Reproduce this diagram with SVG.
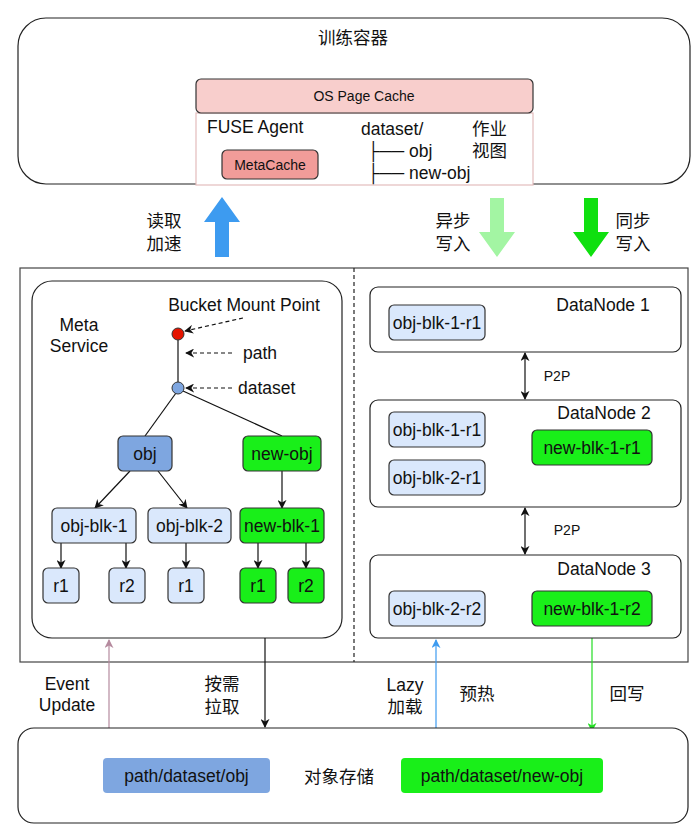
<svg xmlns="http://www.w3.org/2000/svg" width="700" height="836" viewBox="0 0 700 836">
<style>
text{font-family:"Liberation Sans","DejaVu Sans","Noto Sans CJK SC",sans-serif;fill:#111;}
.t16{font-size:17.5px;}
.t13{font-size:14px;}
.c{text-anchor:middle;}
.box{stroke:#333;stroke-width:1.2;}
.lb{fill:#dae8fc;}
.bl{fill:#7ea6e0;}
.gr{fill:#19ef19;}
.ln{stroke:#111;stroke-width:1.2;fill:none;}
.dash{stroke:#111;stroke-width:1.2;fill:none;stroke-dasharray:4 3;}
</style>
<defs>
<marker id="ah" viewBox="0 0 10 10" refX="9" refY="5" markerWidth="9" markerHeight="9" orient="auto-start-reverse" markerUnits="userSpaceOnUse">
<path d="M0,0 L10,5 L0,10 L3,5 z" fill="#111"/>
</marker>
<marker id="ahp" viewBox="0 0 10 10" refX="9" refY="5" markerWidth="9" markerHeight="9" orient="auto" markerUnits="userSpaceOnUse">
<path d="M0,0 L10,5 L0,10 L3,5 z" fill="#b58a9e"/>
</marker>
<marker id="ahb" viewBox="0 0 10 10" refX="9" refY="5" markerWidth="9" markerHeight="9" orient="auto" markerUnits="userSpaceOnUse">
<path d="M0,0 L10,5 L0,10 L3,5 z" fill="#3d9bf0"/>
</marker>
<marker id="ahg" viewBox="0 0 10 10" refX="9" refY="5" markerWidth="9" markerHeight="9" orient="auto" markerUnits="userSpaceOnUse">
<path d="M0,0 L10,5 L0,10 L3,5 z" fill="#22dd22"/>
</marker>
</defs>

<!-- Training container -->
<g id="training-container">
<rect x="18" y="18" width="672" height="166" rx="28" fill="#fff" stroke="#222" stroke-width="1.2"/>
<text class="t16 c" x="353" y="44">训练容器</text>
</g>
<g id="fuse-agent">
<rect x="196" y="113" width="337" height="72" fill="#fff" stroke="#e3bcbc" stroke-width="1.2"/>
<text class="t16" x="207" y="133">FUSE Agent</text>
<text class="t16" x="361" y="135">dataset/</text>
<text class="t16" x="367" y="157">├── obj</text>
<text class="t16" x="367" y="179">├── new-obj</text>
<text class="t16" x="472" y="135">作业</text>
<text class="t16" x="472" y="157">视图</text>
</g>
<g id="os-page-cache">
<rect x="196" y="79" width="337" height="34" rx="5" fill="#f8cecc" stroke="#333" stroke-width="1.2"/>
<text class="t13 c" x="364" y="101">OS Page Cache</text>
</g>
<g id="metacache">
<rect x="222" y="150" width="96" height="29" rx="5" fill="#f19c99" stroke="#333" stroke-width="1.2"/>
<text class="t13 c" x="270" y="170">MetaCache</text>
</g>

<!-- Block arrows -->
<g id="read-accel">
<path d="M222,197 L240,222 L229,222 L229,257 L215,257 L215,222 L204,222 Z" fill="#3d9bf0"/>
<text class="t16 c" x="164" y="227">读取</text>
<text class="t16 c" x="164" y="250">加速</text>
</g>
<g id="async-write">
<path d="M490,198 L504,198 L504,232 L515,232 L497,257 L479,232 L490,232 Z" fill="#a3f5a3"/>
<text class="t16 c" x="453" y="227">异步</text>
<text class="t16 c" x="453" y="250">写入</text>
</g>
<g id="sync-write">
<path d="M584,198 L598,198 L598,232 L609,232 L591,257 L573,232 L584,232 Z" fill="#0fe00f"/>
<text class="t16 c" x="633" y="227">同步</text>
<text class="t16 c" x="633" y="250">写入</text>
</g>

<!-- Middle container -->
<g id="cluster">
<rect x="20" y="268" width="668" height="394" fill="#fff" stroke="#444" stroke-width="1.2"/>
<line x1="354" y1="268" x2="354" y2="662" stroke="#222" stroke-width="1.2" stroke-dasharray="4 3"/>
</g>

<g id="meta-service">
<rect x="32" y="281" width="310" height="357" rx="20" fill="#fff" stroke="#222" stroke-width="1.2"/>
<text class="t16 c" x="79" y="331">Meta</text>
<text class="t16 c" x="79" y="352">Service</text>
<text class="t16 c" x="244" y="311">Bucket Mount Point</text>
<text class="t16" x="243" y="359">path</text>
<text class="t16" x="238" y="394">dataset</text>
</g>

<g id="connectors">
<line class="ln" x1="178" y1="340" x2="178" y2="382"/>
<line class="ln" x1="176" y1="393" x2="145" y2="436"/>
<line class="ln" x1="183" y1="391" x2="282" y2="436"/>
<path class="dash" d="M243,318 L185,331" marker-end="url(#ah)"/>
<path class="dash" d="M232,353 L186,353" marker-end="url(#ah)"/>
<path class="dash" d="M232,388 L186,388" marker-end="url(#ah)"/>
<path class="ln" d="M130,471 L95,508" marker-end="url(#ah)"/>
<path class="ln" d="M158,471 L187,508" marker-end="url(#ah)"/>
<path class="ln" d="M282,471 L282,508" marker-end="url(#ah)"/>
<path class="ln" d="M61,543 L61,568" marker-end="url(#ah)"/>
<path class="ln" d="M126,543 L126,568" marker-end="url(#ah)"/>
<path class="ln" d="M186,543 L186,568" marker-end="url(#ah)"/>
<path class="ln" d="M258,543 L258,568" marker-end="url(#ah)"/>
<path class="ln" d="M306,543 L306,568" marker-end="url(#ah)"/>
<path class="ln" d="M525,353 L525,399" marker-start="url(#ah)" marker-end="url(#ah)"/>
<path class="ln" d="M525,508 L525,554" marker-start="url(#ah)" marker-end="url(#ah)"/>
<path d="M109,728 L109,640" stroke="#b58a9e" stroke-width="1.2" fill="none" marker-end="url(#ahp)"/>
<path class="ln" d="M265,638 L265,727" marker-end="url(#ah)"/>
<path d="M436,728 L436,640" stroke="#3d9bf0" stroke-width="1.2" fill="none" marker-end="url(#ahb)"/>
<path d="M592,638 L592,731" stroke="#22dd22" stroke-width="1.2" fill="none" marker-end="url(#ahg)"/>
</g>

<g id="bucket-point"><circle cx="178" cy="334" r="6" fill="#e51400" stroke="#333" stroke-width="1"/></g>
<g id="dataset-point"><circle cx="178" cy="388" r="6" fill="#7ea6e0" stroke="#333" stroke-width="1"/></g>

<g id="obj"><rect class="box bl" x="118" y="436" width="54" height="35" rx="5"/><text class="t16 c" x="145" y="460">obj</text></g>
<g id="new-obj"><rect class="box gr" x="243" y="436" width="78" height="35" rx="5"/><text class="t16 c" x="282" y="460">new-obj</text></g>
<g id="obj-blk-1"><rect class="box lb" x="52" y="508" width="84" height="35" rx="5"/><text class="t16 c" x="94" y="532">obj-blk-1</text></g>
<g id="obj-blk-2"><rect class="box lb" x="148" y="508" width="83" height="35" rx="5"/><text class="t16 c" x="189.5" y="532">obj-blk-2</text></g>
<g id="new-blk-1"><rect class="box gr" x="240" y="508" width="84" height="35" rx="5"/><text class="t16 c" x="282" y="532">new-blk-1</text></g>
<g id="r1-a"><rect class="box lb" x="43" y="568" width="36" height="35" rx="5"/><text class="t16 c" x="61" y="592">r1</text></g>
<g id="r2-a"><rect class="box lb" x="109" y="568" width="36" height="35" rx="5"/><text class="t16 c" x="127" y="592">r2</text></g>
<g id="r1-b"><rect class="box lb" x="168" y="568" width="36" height="35" rx="5"/><text class="t16 c" x="186" y="592">r1</text></g>
<g id="r1-c"><rect class="box gr" x="240" y="568" width="36" height="35" rx="5"/><text class="t16 c" x="258" y="592">r1</text></g>
<g id="r2-c"><rect class="box gr" x="288" y="568" width="36" height="35" rx="5"/><text class="t16 c" x="306" y="592">r2</text></g>

<g id="datanode-1">
<rect x="370" y="287" width="311" height="65" rx="8" fill="#fff" stroke="#222" stroke-width="1.2"/>
<text class="t16 c" x="603" y="311">DataNode 1</text>
<rect class="box lb" x="389" y="305" width="96" height="35" rx="5"/>
<text class="t16 c" x="437" y="329">obj-blk-1-r1</text>
</g>
<g id="datanode-2">
<rect x="370" y="400" width="311" height="107" rx="8" fill="#fff" stroke="#222" stroke-width="1.2"/>
<text class="t16 c" x="604" y="419">DataNode 2</text>
<rect class="box lb" x="389" y="412" width="96" height="35" rx="5"/>
<text class="t16 c" x="437" y="436">obj-blk-1-r1</text>
<rect class="box lb" x="389" y="460" width="96" height="35" rx="5"/>
<text class="t16 c" x="437" y="484">obj-blk-2-r1</text>
<rect class="box gr" x="532" y="430" width="120" height="35" rx="5"/>
<text class="t16 c" x="592" y="454">new-blk-1-r1</text>
</g>
<g id="datanode-3">
<rect x="370" y="555" width="311" height="83" rx="8" fill="#fff" stroke="#222" stroke-width="1.2"/>
<text class="t16 c" x="604" y="575">DataNode 3</text>
<rect class="box lb" x="389" y="591" width="96" height="35" rx="5"/>
<text class="t16 c" x="437" y="615">obj-blk-2-r2</text>
<rect class="box gr" x="532" y="591" width="120" height="35" rx="5"/>
<text class="t16 c" x="592" y="615">new-blk-1-r2</text>
</g>
<text class="t13 c" x="557" y="381">P2P</text>
<text class="t13 c" x="567" y="535">P2P</text>

<g id="labels-bottom">
<text class="t16 c" x="67" y="690">Event</text>
<text class="t16 c" x="67" y="711">Update</text>
<text class="t16 c" x="222" y="690">按需</text>
<text class="t16 c" x="222" y="713">拉取</text>
<text class="t16 c" x="405" y="691">Lazy</text>
<text class="t16 c" x="405" y="713">加载</text>
<text class="t16 c" x="477" y="700">预热</text>
<text class="t16 c" x="627" y="700">回写</text>
</g>

<g id="object-storage">
<rect x="18" y="728" width="670" height="95" rx="16" fill="#fff" stroke="#222" stroke-width="1.2"/>
<text class="t16 c" x="339" y="783">对象存储</text>
</g>
<g id="path-obj"><rect class="bl" x="103" y="758" width="167" height="35" rx="4"/><text class="t16 c" x="186.5" y="782">path/dataset/obj</text></g>
<g id="path-new-obj"><rect class="gr" x="401" y="758" width="202" height="35" rx="4"/><text class="t16 c" x="502" y="782">path/dataset/new-obj</text></g>
</svg>
